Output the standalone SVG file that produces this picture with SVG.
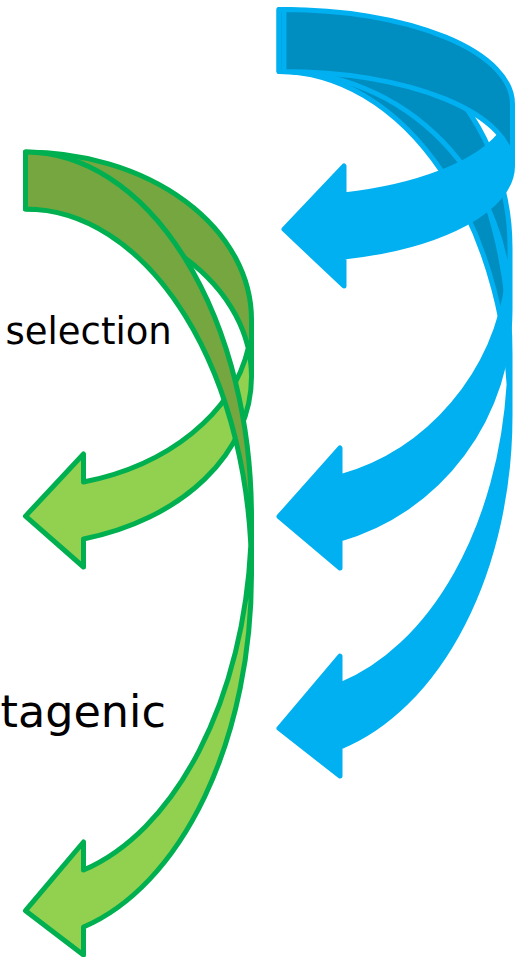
<svg xmlns="http://www.w3.org/2000/svg" width="524" height="957" viewBox="0 0 524 957">
<style>
.bf{fill:#00B0F0}
.bd{fill:#008DC0}
.bs{fill:none;stroke:#00B0F0;stroke-width:5;stroke-linejoin:round}
.gf{fill:#92D050}
.gd{fill:#75A640}
.gs{fill:none;stroke:#00B050;stroke-width:5;stroke-linejoin:round}
.lbl{font-family:"DejaVu Sans","Liberation Sans",sans-serif;fill:#000}
</style>
<rect width="524" height="957" fill="#fff"/>
<g id="labels">
<text class="lbl" x="5.5" y="344" font-size="37">selection</text>
<text class="lbl" x="0.5" y="727" font-size="44.5">tagenic</text>
</g>
<g id="blue-arrow-3">
<path class="bf" d="M279 728.3 L340 656.1 L340 685.1 A231 343.9 0 0 0 509.1 384.4 A231 343.9 0 0 1 340 747.1 L340 776.1 Z"/>
<path class="bd" d="M510 415.4 A231 343.9 0 0 0 279 71.5 L279 9.5 A231 343.9 0 0 1 510 353.4 Z"/>
<path class="bs" d="M510 415.4 A231 343.9 0 0 0 279 71.5 L279 9.5 A231 343.9 0 0 1 510 353.4 L510 415.4 A231 343.9 0 0 1 340 747.1 L340 776.1 L279 728.3 L340 656.1 L340 685.1 A231 343.9 0 0 0 509.1 384.4"/>
</g>
<g id="blue-arrow-2">
<path class="bf" d="M279 516.5 L340 448 L340 477 A231 238 0 0 0 508 278.5 A231 238 0 0 1 340 539 L340 568 Z"/>
<path class="bd" d="M510 309.5 A231 238 0 0 0 279 71.5 L279 9.5 A231 238 0 0 1 510 247.5 Z"/>
<path class="bs" d="M510 309.5 A231 238 0 0 0 279 71.5 L279 9.5 A231 238 0 0 1 510 247.5 L510 309.5 A231 238 0 0 1 340 539 L340 568 L279 516.5 L340 448 L340 477 A231 238 0 0 0 508 278.5"/>
</g>
<g id="blue-arrow-1">
<path class="bf" d="M284 229.3 L344 166 L344 195 A228.5 94.4 0 0 0 499.8 134.9 A228.5 94.4 0 0 1 344 257 L344 286 Z"/>
<path class="bd" d="M512.5 165.9 A228.5 94.4 0 0 0 284 71.5 L284 9.5 A228.5 94.4 0 0 1 512.5 103.9 Z"/>
<path class="bs" d="M512.5 165.9 A228.5 94.4 0 0 0 284 71.5 L284 9.5 A228.5 94.4 0 0 1 512.5 103.9 L512.5 165.9 A228.5 94.4 0 0 1 344 257 L344 286 L284 229.3 L344 166 L344 195 A228.5 94.4 0 0 0 499.8 134.9"/>
</g>
<g id="green-arrow-1">
<path class="gf" d="M25.5 516.1 L83.5 454 L83.5 482 A226 167.8 0 0 0 248.2 348.3 A226 167.8 0 0 1 83.5 539 L83.5 567 Z"/>
<path class="gd" d="M251.5 376.8 A226 167.8 0 0 0 25.5 209 L25.5 152 A226 167.8 0 0 1 251.5 319.8 Z"/>
<path class="gs" d="M251.5 376.8 A226 167.8 0 0 0 25.5 209 L25.5 152 A226 167.8 0 0 1 251.5 319.8 L251.5 376.8 A226 167.8 0 0 1 83.5 539 L83.5 567 L25.5 516.1 L83.5 454 L83.5 482 A226 167.8 0 0 0 248.2 348.3"/>
</g>
<g id="green-arrow-2">
<path class="gf" d="M25.5 910.7 L83.5 842 L83.5 870 A226 365.1 0 0 0 250.8 545.6 A226 365.1 0 0 1 83.5 927 L83.5 955 Z"/>
<path class="gd" d="M251.5 574.1 A226 365.1 0 0 0 25.5 209 L25.5 152 A226 365.1 0 0 1 251.5 517.1 Z"/>
<path class="gs" d="M251.5 574.1 A226 365.1 0 0 0 25.5 209 L25.5 152 A226 365.1 0 0 1 251.5 517.1 L251.5 574.1 A226 365.1 0 0 1 83.5 927 L83.5 955 L25.5 910.7 L83.5 842 L83.5 870 A226 365.1 0 0 0 250.8 545.6"/>
</g>
<g id="connectors"/>
</svg>
